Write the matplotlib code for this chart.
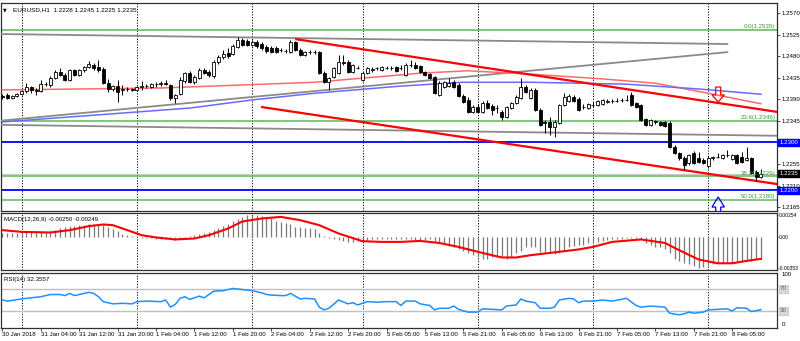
import matplotlib
matplotlib.use('Agg')
import matplotlib.pyplot as plt
import numpy as np
from matplotlib.patches import FancyArrow

plt.rcParams['font.family'] = ['Liberation Sans Narrow', 'Liberation Sans', 'DejaVu Sans']
plt.rcParams['font.size'] = 4.4

# EURUSD H1, 30 Jan 2018 20:00 .. 8 Feb 2018 11:00 (one entry per bar)
opens = [1.2397, 1.2399, 1.2393, 1.2397, 1.2401, 1.2408, 1.2416, 1.2410, 1.2408, 1.2422,
         1.2420, 1.2435, 1.2447, 1.2441, 1.2431, 1.2452, 1.2441, 1.2452, 1.2458, 1.2462,
         1.2458, 1.2454, 1.2424, 1.2412, 1.2418, 1.2410, 1.2412, 1.2412, 1.2410, 1.2416,
         1.2418, 1.2416, 1.2422, 1.2422, 1.2424, 1.2420, 1.2393, 1.2401, 1.2429, 1.2445,
         1.2426, 1.2435, 1.2452, 1.2447, 1.2439, 1.2468, 1.2479, 1.2487, 1.2485, 1.2500,
         1.2514, 1.2512, 1.2504, 1.2510, 1.2506, 1.2500, 1.2498, 1.2498, 1.2494, 1.2491,
         1.2489, 1.2510, 1.2494, 1.2483, 1.2489, 1.2489, 1.2489, 1.2445, 1.2426, 1.2437,
         1.2445, 1.2468, 1.2468, 1.2447, 1.2456, 1.2431, 1.2445, 1.2452, 1.2456, 1.2452,
         1.2456, 1.2456, 1.2458, 1.2456, 1.2441, 1.2462, 1.2462, 1.2460, 1.2447, 1.2443,
         1.2437, 1.2399, 1.2416, 1.2418, 1.2426, 1.2420, 1.2397, 1.2389, 1.2364, 1.2374,
         1.2364, 1.2383, 1.2376, 1.2372, 1.2364, 1.2353, 1.2372, 1.2383, 1.2393, 1.2416,
         1.2393, 1.2410, 1.2368, 1.2343, 1.2343, 1.2333, 1.2341, 1.2379, 1.2387, 1.2395,
         1.2391, 1.2374, 1.2372, 1.2379, 1.2379, 1.2381, 1.2385, 1.2387, 1.2387, 1.2389,
         1.2389, 1.2399, 1.2383, 1.2379, 1.2349, 1.2337, 1.2343, 1.2343, 1.2343, 1.2341,
         1.2291, 1.2278, 1.2268, 1.2257, 1.2278, 1.2268, 1.2264, 1.2251, 1.2268, 1.2270,
         1.2268, 1.2274, 1.2266, 1.2274, 1.2270, 1.2264, 1.2268, 1.2239, 1.2228]
highs = [1.2401, 1.2403, 1.2399, 1.2403, 1.2410, 1.2424, 1.2418, 1.2414, 1.2431, 1.2426,
         1.2439, 1.2452, 1.2456, 1.2445, 1.2454, 1.2454, 1.2454, 1.2460, 1.2471, 1.2466,
         1.2473, 1.2458, 1.2433, 1.2420, 1.2431, 1.2420, 1.2416, 1.2414, 1.2418, 1.2429,
         1.2422, 1.2424, 1.2426, 1.2429, 1.2431, 1.2422, 1.2401, 1.2437, 1.2447, 1.2450,
         1.2441, 1.2456, 1.2456, 1.2452, 1.2473, 1.2483, 1.2494, 1.2498, 1.2506, 1.2521,
         1.2519, 1.2517, 1.2514, 1.2514, 1.2510, 1.2504, 1.2502, 1.2502, 1.2498, 1.2496,
         1.2514, 1.2512, 1.2498, 1.2491, 1.2494, 1.2494, 1.2491, 1.2450, 1.2437, 1.2458,
         1.2483, 1.2483, 1.2473, 1.2464, 1.2460, 1.2447, 1.2458, 1.2458, 1.2458, 1.2460,
         1.2460, 1.2460, 1.2460, 1.2462, 1.2466, 1.2473, 1.2468, 1.2462, 1.2450, 1.2445,
         1.2439, 1.2429, 1.2429, 1.2435, 1.2431, 1.2424, 1.2401, 1.2395, 1.2379, 1.2381,
         1.2387, 1.2389, 1.2381, 1.2379, 1.2368, 1.2376, 1.2385, 1.2399, 1.2435, 1.2420,
         1.2414, 1.2414, 1.2372, 1.2347, 1.2353, 1.2347, 1.2381, 1.2403, 1.2401, 1.2399,
         1.2395, 1.2381, 1.2383, 1.2385, 1.2389, 1.2391, 1.2391, 1.2391, 1.2393, 1.2393,
         1.2399, 1.2405, 1.2385, 1.2381, 1.2351, 1.2349, 1.2347, 1.2345, 1.2345, 1.2345,
         1.2295, 1.2280, 1.2272, 1.2276, 1.2282, 1.2280, 1.2268, 1.2272, 1.2272, 1.2278,
         1.2276, 1.2284, 1.2276, 1.2276, 1.2280, 1.2291, 1.2270, 1.2243, 1.2245]
lows = [1.2391, 1.2391, 1.2391, 1.2395, 1.2399, 1.2403, 1.2403, 1.2399, 1.2405, 1.2418,
        1.2416, 1.2433, 1.2439, 1.2429, 1.2429, 1.2439, 1.2439, 1.2447, 1.2456, 1.2452,
        1.2447, 1.2422, 1.2405, 1.2408, 1.2385, 1.2399, 1.2408, 1.2408, 1.2408, 1.2410,
        1.2414, 1.2414, 1.2416, 1.2418, 1.2420, 1.2389, 1.2383, 1.2399, 1.2424, 1.2424,
        1.2422, 1.2433, 1.2443, 1.2437, 1.2435, 1.2464, 1.2475, 1.2477, 1.2483, 1.2498,
        1.2502, 1.2502, 1.2502, 1.2498, 1.2494, 1.2487, 1.2487, 1.2487, 1.2489, 1.2487,
        1.2487, 1.2491, 1.2481, 1.2481, 1.2485, 1.2485, 1.2443, 1.2424, 1.2410, 1.2435,
        1.2443, 1.2462, 1.2445, 1.2445, 1.2454, 1.2429, 1.2443, 1.2447, 1.2452, 1.2450,
        1.2454, 1.2452, 1.2447, 1.2452, 1.2439, 1.2458, 1.2454, 1.2445, 1.2439, 1.2433,
        1.2401, 1.2397, 1.2414, 1.2416, 1.2414, 1.2395, 1.2383, 1.2362, 1.2362, 1.2362,
        1.2362, 1.2370, 1.2358, 1.2362, 1.2347, 1.2351, 1.2370, 1.2381, 1.2391, 1.2403,
        1.2391, 1.2366, 1.2335, 1.2320, 1.2316, 1.2312, 1.2339, 1.2376, 1.2385, 1.2385,
        1.2366, 1.2370, 1.2370, 1.2374, 1.2376, 1.2379, 1.2383, 1.2383, 1.2385, 1.2385,
        1.2387, 1.2376, 1.2372, 1.2345, 1.2335, 1.2335, 1.2339, 1.2335, 1.2333, 1.2288,
        1.2276, 1.2264, 1.2243, 1.2253, 1.2255, 1.2257, 1.2255, 1.2247, 1.2264, 1.2268,
        1.2266, 1.2270, 1.2264, 1.2255, 1.2257, 1.2261, 1.2234, 1.2220, 1.2225]
closes = [1.2395, 1.2393, 1.2397, 1.2401, 1.2408, 1.2416, 1.2410, 1.2408, 1.2422, 1.2422,
          1.2435, 1.2447, 1.2441, 1.2431, 1.2452, 1.2441, 1.2452, 1.2458, 1.2464, 1.2456,
          1.2452, 1.2424, 1.2412, 1.2418, 1.2405, 1.2412, 1.2412, 1.2410, 1.2416, 1.2418,
          1.2418, 1.2422, 1.2422, 1.2424, 1.2422, 1.2393, 1.2399, 1.2431, 1.2445, 1.2426,
          1.2437, 1.2452, 1.2445, 1.2441, 1.2468, 1.2479, 1.2485, 1.2481, 1.2502, 1.2514,
          1.2504, 1.2504, 1.2510, 1.2502, 1.2498, 1.2491, 1.2489, 1.2489, 1.2494, 1.2491,
          1.2510, 1.2494, 1.2483, 1.2489, 1.2489, 1.2489, 1.2445, 1.2426, 1.2435, 1.2456,
          1.2468, 1.2466, 1.2447, 1.2462, 1.2456, 1.2445, 1.2456, 1.2454, 1.2456, 1.2458,
          1.2456, 1.2456, 1.2450, 1.2456, 1.2462, 1.2462, 1.2456, 1.2447, 1.2441, 1.2435,
          1.2403, 1.2424, 1.2426, 1.2424, 1.2416, 1.2397, 1.2385, 1.2364, 1.2374, 1.2364,
          1.2383, 1.2372, 1.2368, 1.2372, 1.2353, 1.2374, 1.2383, 1.2395, 1.2416, 1.2405,
          1.2410, 1.2368, 1.2337, 1.2341, 1.2333, 1.2343, 1.2379, 1.2395, 1.2397, 1.2387,
          1.2368, 1.2374, 1.2381, 1.2379, 1.2387, 1.2389, 1.2387, 1.2387, 1.2387, 1.2389,
          1.2389, 1.2379, 1.2374, 1.2347, 1.2337, 1.2347, 1.2345, 1.2337, 1.2335, 1.2291,
          1.2278, 1.2268, 1.2253, 1.2274, 1.2257, 1.2259, 1.2257, 1.2268, 1.2270, 1.2270,
          1.2274, 1.2274, 1.2274, 1.2257, 1.2259, 1.2268, 1.2236, 1.2228, 1.2235]

# MACD(12,26,9) histogram per bar and signal line
macd_hist = [0.00046, 0.00046, 0.00046, 0.00046, 0.00058, 0.00058, 0.00058, 0.00058, 0.00058, 0.00058,
             0.00066, 0.00084, 0.00104, 0.00112, 0.00123, 0.00130, 0.00135, 0.00141, 0.00150, 0.00153,
             0.00153, 0.00141, 0.00115, 0.00092, 0.00066, 0.00038, 0.00023, 0.00015, 0.00003, -0.00008,
             -0.00015, -0.00015, -0.00017, -0.00020, -0.00020, -0.00026, -0.00031, -0.00023, -0.00008, 0.00008,
             0.00026, 0.00038, 0.00046, 0.00058, 0.00081, 0.00104, 0.00130, 0.00153, 0.00181, 0.00207,
             0.00230, 0.00250, 0.00254, 0.00253, 0.00247, 0.00233, 0.00215, 0.00187, 0.00176, 0.00164,
             0.00150, 0.00118, 0.00112, 0.00100, 0.00100, 0.00089, 0.00049, 0.00012, -0.00006, -0.00026,
             -0.00035, -0.00043, -0.00054, -0.00054, -0.00043, -0.00043, -0.00035, -0.00026, -0.00023, -0.00020,
             -0.00017, -0.00017, -0.00020, -0.00020, -0.00023, -0.00026, -0.00035, -0.00043, -0.00035, -0.00026,
             -0.00043, -0.00066, -0.00081, -0.00104, -0.00118, -0.00141, -0.00158, -0.00181, -0.00207, -0.00233,
             -0.00253, -0.00245, -0.00233, -0.00227, -0.00233, -0.00245, -0.00233, -0.00187, -0.00158, -0.00112,
             -0.00112, -0.00112, -0.00169, -0.00181, -0.00181, -0.00196, -0.00187, -0.00150, -0.00112, -0.00104,
             -0.00092, -0.00092, -0.00072, -0.00066, -0.00054, -0.00043, -0.00035, -0.00026, -0.00026, -0.00020,
             -0.00015, -0.00015, -0.00015, -0.00020, -0.00066, -0.00092, -0.00112, -0.00118, -0.00141, -0.00187,
             -0.00245, -0.00273, -0.00296, -0.00311, -0.00334, -0.00353, -0.00342, -0.00322, -0.00311, -0.00302,
             -0.00302, -0.00296, -0.00291, -0.00288, -0.00282, -0.00270, -0.00268, -0.00259, -0.00250]
signal_bars = [0, 4, 10, 14, 18, 21, 23, 26, 29, 32, 36, 40, 43, 47, 50, 54, 58, 62, 66, 70,
               75, 79, 83, 87, 91, 95, 100, 104, 107, 110, 114, 120, 123, 127, 133, 138, 141,
               145, 149, 152, 155, 158]
signal = [0.00081, 0.00061, 0.00054, 0.00081, 0.00127, 0.00146, 0.00138, 0.00081, 0.00023, -0.00003,
          -0.00026, -0.00015, 0.00023, 0.00100, 0.00181, 0.00215, 0.00233, 0.00196, 0.00138, 0.00043,
          -0.00046, -0.00054, -0.00054, -0.00043, -0.00066, -0.00112, -0.00181, -0.00233, -0.00233, -0.00207,
          -0.00181, -0.00141, -0.00112, -0.00054, -0.00026, -0.00066, -0.00150, -0.00256, -0.00300, -0.00300,
          -0.00272, -0.00249]

# RSI(14)
rsi_bars = [0, 1, 4, 6, 8, 10, 12, 13, 14, 15, 17, 18, 19, 20, 21, 22, 23, 25, 27, 28,
            30, 33, 34, 35, 36, 37, 38, 39, 41, 42, 44, 46, 48, 50, 52, 54, 55, 56, 58, 59,
            60, 62, 63, 65, 66, 67, 68, 70, 72, 73, 74, 76, 78, 80, 82, 83, 84, 86, 87, 89,
            90, 91, 93, 94, 95, 97, 99, 100, 102, 104, 105, 107, 108, 109, 111, 112, 114, 115, 116, 118,
            119, 120, 121, 123, 125, 127, 130, 132, 133, 135, 138, 139, 141, 142, 143, 144, 146, 147, 149, 151,
            152, 153, 155, 156, 158]
rsi = [50, 48, 52, 54, 56, 60, 60, 58, 62, 58, 62, 64, 62, 56, 47, 45, 43, 44, 43, 47,
       48, 47, 50, 37, 42, 53, 56, 51, 57, 54, 66, 67, 71, 69, 67, 63, 60, 59, 58, 58,
       62, 52, 53, 52, 37, 32, 35, 50, 43, 45, 41, 47, 46, 47, 47, 40, 48, 48, 43, 40,
       32, 35, 35, 39, 33, 28, 28, 34, 33, 32, 39, 41, 52, 48, 45, 35, 35, 37, 50, 53,
       52, 45, 48, 48, 50, 48, 53, 40, 37, 39, 37, 26, 23, 25, 28, 26, 28, 32, 33, 34,
       30, 36, 35, 29, 32.3557]

# moving averages
ma_red_bars = [0, 33, 65, 87, 97, 110, 125, 136, 147, 158]
ma_red = [1.2410, 1.2414, 1.2426, 1.2445, 1.2450, 1.2443, 1.2433, 1.2424, 1.2403, 1.2381]
ma_blue_bars = [0, 39, 52, 65, 83, 96, 110, 130, 145, 158]
ma_blue = [1.2343, 1.2372, 1.2389, 1.2403, 1.2418, 1.2426, 1.2426, 1.2422, 1.2412, 1.2401]

# trend lines: (bar, price) end points
gray_top = ([-1, 151], [1.2527, 1.2506])
gray_rise = ([-1, 151], [1.2345, 1.2489])
gray_low = ([-1, 162], [1.2337, 1.2314])
red_top = ([61.2, 161.4], [1.2516, 1.2364])
red_low = ([54.1, 161.4], [1.2374, 1.2213])

fib_levels = [1.2535, 1.2346, 1.2229, 1.2180]
fib_labels = ['0.0(1.2535)', '23.6(1.2346)', '38.2(1.2229)', '50.0(1.2180)']
sr_levels = [1.2300, 1.2200]
bid = 1.2235

day_bars = [4, 28, 52, 75, 99, 123, 147]
time_bars = list(range(0, 153, 8))
time_labels = ['30 Jan 2018', '31 Jan 04:00', '31 Jan 12:00', '31 Jan 20:00', '1 Feb 04:00',
               '1 Feb 12:00', '1 Feb 20:00', '2 Feb 04:00', '2 Feb 12:00', '2 Feb 20:00',
               '5 Feb 05:00', '5 Feb 13:00', '5 Feb 21:00', '6 Feb 05:00', '6 Feb 13:00',
               '6 Feb 21:00', '7 Feb 05:00', '7 Feb 13:00', '7 Feb 21:00', '8 Feb 05:00']
price_ticks = [1.2570, 1.2525, 1.2480, 1.2435, 1.2390, 1.2345, 1.2300, 1.2255, 1.2210, 1.2165]

W, H = 800, 341


def panel(top, bottom, left=1, right=777):
    return [left / W, 1 - bottom / H, (right - left) / W, (bottom - top) / H]


fig = plt.figure(figsize=(8, 3.41), dpi=100)
ax = fig.add_axes(panel(3, 211))
ax_macd = fig.add_axes(panel(213, 270))
ax_rsi = fig.add_axes(panel(272.5, 327.5))

for a in (ax, ax_macd, ax_rsi):
    a.set_xlim(-0.31, 161.35)
    a.yaxis.tick_right()
    a.tick_params(axis='y', labelsize=4.4, length=2, width=0.5, pad=1.2, colors='black')
    a.tick_params(axis='x', bottom=False, labelbottom=False)
    for s in a.spines.values():
        s.set_color('#303030')
        s.set_linewidth(0.9)
    for d in day_bars:
        a.axvline(d, color='black', lw=0.7, ls=(0, (1.2, 1.6)), zorder=1)

# ---- main price panel
ax.set_ylim(1.21567, 1.25918)
ax.set_yticks(price_ticks)
# 1.2300 is shown by its own boxed label
ax.set_yticklabels(['' if p == 1.2300 else '%.4f' % p for p in price_ticks])

x = np.arange(len(closes))
o, h, l, c = map(np.array, (opens, highs, lows, closes))
up = c >= o
ax.vlines(x, l, h, color='black', lw=0.7, zorder=5)
ax.bar(x[up], c[up] - o[up], bottom=o[up], width=0.62, facecolor='white',
       edgecolor='black', lw=0.6, zorder=6)
ax.bar(x[~up], o[~up] - c[~up], bottom=c[~up], width=0.62, facecolor='black',
       edgecolor='black', lw=0.6, zorder=6)

for lv in fib_levels:
    ax.axhline(lv, color='#5cb85c', lw=1.1, zorder=2)
for lv, txt in zip(fib_levels, fib_labels):
    ax.annotate(txt, xy=(1, lv), xycoords=('axes fraction', 'data'), xytext=(-1, 0.6),
                textcoords='offset points', ha='right', va='bottom', color='#3c9a3c',
                fontsize=4.4, zorder=7)
for lv in sr_levels:
    ax.axhline(lv, color='#0000ff', lw=1.3, zorder=2)
ax.axhline(bid, color='#c8c8c8', lw=0.8, zorder=2)

ax.plot(*gray_top, color='#8a8a8a', lw=1.3, zorder=3)
ax.plot(*gray_rise, color='#8a8a8a', lw=1.3, zorder=3)
ax.plot(*gray_low, color='#8a8a8a', lw=1.3, zorder=3)
ax.plot(ma_red_bars, ma_red, color='#ff6a6a', lw=1.1, zorder=3)
ax.plot(ma_blue_bars, ma_blue, color='#6a6aff', lw=1.1, zorder=3)
ax.plot(*red_top, color='#ff0000', lw=1.6, zorder=4)
ax.plot(*red_low, color='#ff0000', lw=1.6, zorder=4)

ax.add_patch(FancyArrow(149.1, 1.2416, 0, -0.0031, width=1.05, head_width=2.6,
                        head_length=0.00146, length_includes_head=True,
                        fill=False, edgecolor='#ff0000', lw=0.9, zorder=7))
ax.add_patch(FancyArrow(149.1, 1.2150, 0, 0.0036, width=1.05, head_width=2.6,
                        head_length=0.0021, length_includes_head=True,
                        fill=False, edgecolor='#0000ff', lw=0.9, zorder=7))

ytr = ax.get_yaxis_transform()
for lv, fc in ((1.2300, '#0000ff'), (1.2200, '#0000ff'), (bid, 'black')):
    ax.text(1.003, lv, '%.4f' % lv, transform=ytr, ha='left', va='center', color='white',
            fontsize=4.4, clip_on=False, zorder=10,
            bbox=dict(boxstyle='square,pad=0.2', facecolor=fc, edgecolor=fc))

ax.text(0.003, 0.967, '\u25bc', transform=ax.transAxes, fontsize=3.5, va='center',
        ha='left', family='DejaVu Sans')
ax.text(0.016, 0.967, 'EURUSD,H1  1.2228 1.2245 1.2225 1.2235', transform=ax.transAxes,
        va='center', ha='left', fontsize=4.6)

# ---- MACD panel
ax_macd.set_ylim(-0.00377, 0.00278)
ax_macd.set_yticks([0.00254, 0.0, -0.00353])
ax_macd.set_yticklabels(['0.00254', '0.00', '-0.00353'])
ax_macd.tick_params(axis='y', labelsize=3.6, length=1, pad=0.4)
ax_macd.vlines(x, 0, macd_hist, color='#7a7a7a', lw=0.9, zorder=2)
ax_macd.plot(signal_bars, signal, color='#ff0000', lw=1.5, zorder=3)
ax_macd.text(0.004, 0.93, 'MACD(12,26,9) -0.00250 -0.00249', transform=ax_macd.transAxes,
             va='top', ha='left')

# ---- RSI panel
ax_rsi.set_ylim(0, 100)
ax_rsi.set_yticks([])
for lv in (70, 30):
    ax_rsi.axhline(lv, color='#c0c0c0', lw=1.0, zorder=1)
rtr = ax_rsi.get_yaxis_transform()
ax_rsi.text(1.006, 100, '100', transform=rtr, va='top', ha='left', clip_on=False)
ax_rsi.text(1.006, 0, '0', transform=rtr, va='bottom', ha='left', clip_on=False)
for lv in (70, 30):
    ax_rsi.text(1.004, lv, str(lv), transform=rtr, va='center', ha='left', clip_on=False,
                color='#606060',
                bbox=dict(boxstyle='square,pad=0.2', facecolor='#d8d8d8', edgecolor='#b0b0b0', lw=0.4))
ax_rsi.plot(rsi_bars, rsi, color='#1e90ff', lw=1.1, zorder=3)
ax_rsi.text(0.004, 0.92, 'RSI(14) 32.3557', transform=ax_rsi.transAxes, va='top', ha='left')

ax_rsi.tick_params(axis='x', bottom=True, labelbottom=True, length=2.5, width=0.5,
                   pad=1.0, labelsize=4.4)
ax_rsi.set_xticks(time_bars)
ax_rsi.set_xticklabels(time_labels, ha='left')

fig.savefig('out.png', dpi=100, facecolor='white')
